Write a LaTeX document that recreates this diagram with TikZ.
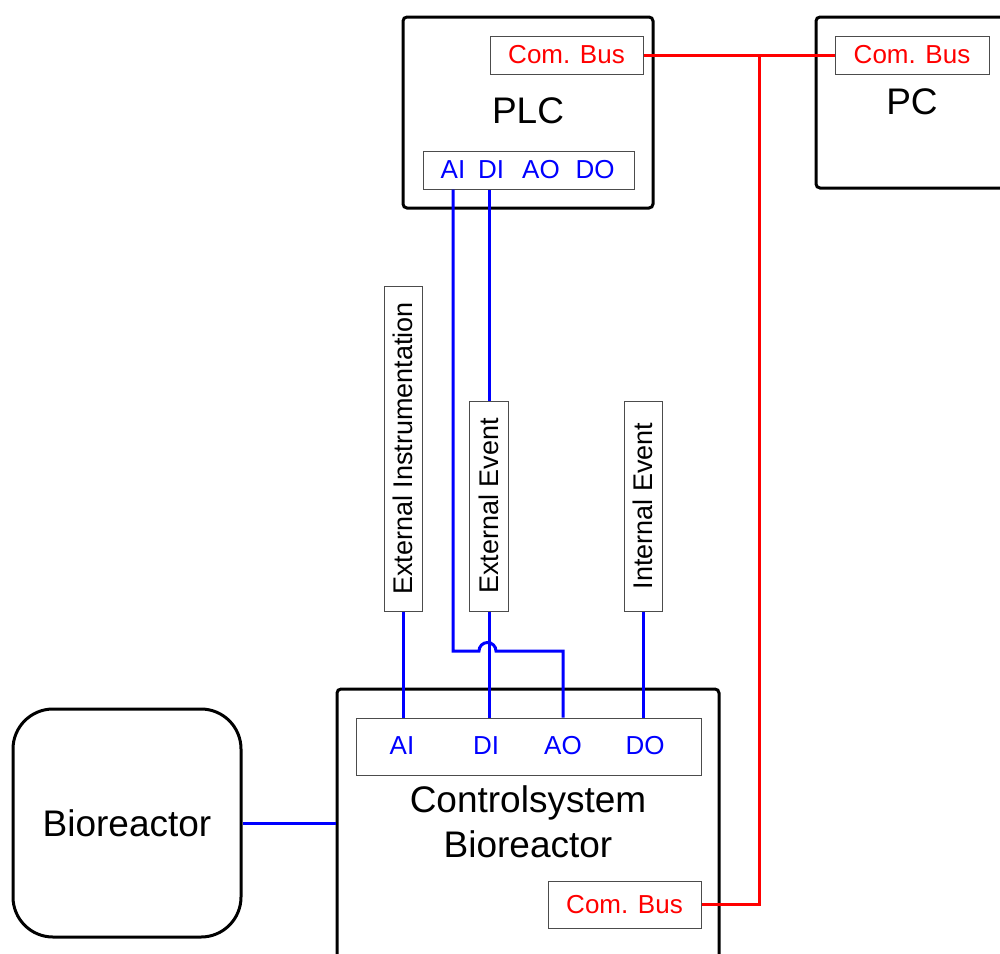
\documentclass[tikz,border=0pt]{standalone}
\usepackage{fontspec}
\setmainfont{Liberation Sans}
\begin{document}
\begin{tikzpicture}[x=1pt,y=-1pt,
  unit/.style={draw=black, line width=3pt, rounded corners=4pt, inner sep=0pt},
  port/.style={draw=black!70, line width=1pt, inner sep=0pt},
  big/.style={font=\fontsize{37}{45}\selectfont, inner sep=0pt},
  small/.style={font=\fontsize{26}{30}\selectfont, inner sep=0pt},
  sigtext/.style={small, text=blue},
  sig/.style={draw=blue, line width=3pt},
  bus/.style={draw=red, line width=3pt},
  vlabel/.style={port, font=\fontsize{27}{30}\selectfont},
]
\fill[white] (0,0) rectangle (1000,953);
\useasboundingbox (0,0) rectangle (1000,953);
\clip (0,0) rectangle (1000,953);

% PLC
\node[unit, minimum width=250, minimum height=191] (plc) at (528,112.5) {};
\node[big] (plclabel) at (528,111) {PLC};
\node[port, text=red, font=\fontsize{26}{30}\selectfont, minimum width=153, minimum height=38] (plcbus) at (566.5,55) {Com. Bus};
\node[port, minimum width=211, minimum height=38] (plcio) at (528.5,170) {};
\node[sigtext] (plcAI) at (453,170) {AI};
\node[sigtext] (plcDI) at (491,170) {DI};
\node[sigtext] (plcAO) at (541,170) {AO};
\node[sigtext] (plcDO) at (595,170) {DO};

% PC
\node[unit, minimum width=214, minimum height=171] (pc) at (923,102.5) {};
\node[big] (pclabel) at (912,102) {PC};
\node[port, text=red, font=\fontsize{26}{30}\selectfont, minimum width=154, minimum height=38] (pcbus) at (912,55) {Com. Bus};

% Control system
\node[unit, minimum width=382, minimum height=321] (cs) at (528,849.5) {};
\node[port, minimum width=345, minimum height=57] (csio) at (528.5,746.5) {};
\node[sigtext] (csAI) at (402,746) {AI};
\node[sigtext] (csDI) at (486,746) {DI};
\node[sigtext] (csAO) at (563,746) {AO};
\node[sigtext] (csDO) at (645,746) {DO};
\node[big, align=center] (cslabel) at (528,822) {Controlsystem\\Bioreactor};
\node[port, text=red, font=\fontsize{26}{30}\selectfont, minimum width=153, minimum height=47] (csbus) at (624.5,904.5) {Com. Bus};

% Bioreactor
\node[unit, rounded corners=40pt, minimum width=228, minimum height=228, font=\fontsize{37}{45}\selectfont] (bio) at (127,823) {Bioreactor};

% Signal sources
\node[vlabel, minimum width=38, minimum height=325] (extin) at (403,448.5) {\rotatebox{90}{External Instrumentation}};
\node[vlabel, minimum width=39, minimum height=210] (extev) at (489,506) {\rotatebox{90}{External Event}};
\node[vlabel, minimum width=38, minimum height=210] (intev) at (643,506) {\rotatebox{90}{Internal Event}};

% Signal wiring
\draw[sig] (extin.south) -- (extin.south |- csio.north);
\draw[sig] (extev.north) -- (extev.north |- plcio.south);
\draw[sig] (extev.south) -- (extev.south |- csio.north);
\draw[sig] (intev.south) -- (intev.south |- csio.north);
\draw[sig] (bio.east) -- (cs.west |- bio.east);
\coordinate (hopL) at (479,651);
\draw[sig] (plcAI |- plcio.south) |- (hopL)
  arc[start angle=180, end angle=360, radius=8.5] -| (csAO |- csio.north);

% Communication bus
\coordinate (tap) at (759,55);
\draw[bus] (plcbus.east) -- (pcbus.west);
\draw[bus] (csbus.east) -| (tap);
\end{tikzpicture}
\end{document}
